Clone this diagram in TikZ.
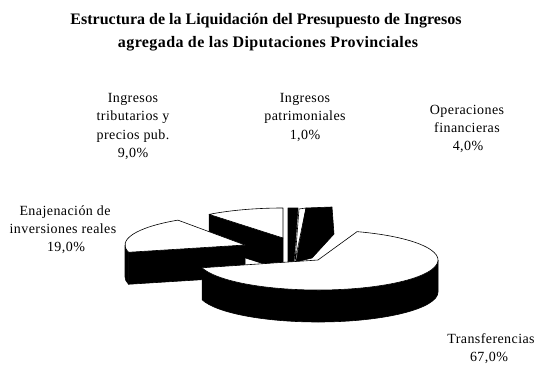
\documentclass[tikz,border=0pt]{standalone}
\usepackage{fontspec}
\setmainfont{Liberation Serif}
\usetikzlibrary{calc}
\begin{document}
\begin{tikzpicture}[x=1pt,y=1pt,
  topface/.style={fill=white,draw=black,line width=0.6pt,line join=round},
  sideface/.style={fill=black,draw=black,line width=0.6pt,line join=round},
  lbl/.style={font=\fontsize{14}{18}\selectfont\addfontfeature{LetterSpace=3},inner sep=0pt,anchor=base},
  ttl/.style={font=\fontsize{16}{22}\selectfont\bfseries,inner sep=0pt,anchor=base},
  ell/.style={x radius=120,y radius=30}]
\useasboundingbox (0,0) rectangle (538,370);
% title
\node[ttl] (t1) at (266,345.4) {Estructura de la Liquidación del Presupuesto de Ingresos};
\node[ttl,font=\fontsize{16}{22}\selectfont\bfseries\addfontfeature{LetterSpace=2.5}] (t2) at (268,322.4) {agregada de las Diputaciones Provinciales};
% apexes
\coordinate (A1) at (318,110);
\coordinate (A2) at (245,125);
\coordinate (A3) at (283,132);
% Ingresos tributarios (90..128)
\fill[sideface] (A3) -- ++(128:120 and 30) -- ++(0,-32) -- ($(A3)+(0,-32)$) -- cycle;
\draw[topface] (A3) -- ++(90:120 and 30) arc[start angle=90,end angle=128,ell] -- cycle;
% Ingresos patrimoniales
\fill[sideface] (288,162) -- (298,162) -- (294,108) -- (288,108) -- cycle;
% Operaciones financieras
\draw[topface] (299,161) -- (306,162) -- (295,109) -- cycle;
\fill[sideface] (306,162) -- (332,163) -- (334,136) -- (312,112) -- (296,108) -- cycle;
% Enajenacion (124..194)
\fill[sideface] (A2) ++(180:120 and 30) arc[start angle=180,end angle=194,ell] -- ++(0,-32) arc[start angle=194,end angle=180,ell] -- cycle;
\fill[sideface] (A2) -- ++(194:120 and 30) -- ++(0,-32) -- ($(A2)+(0,-32)$) -- cycle;
\draw[topface] (A2) -- ++(124:120 and 30) arc[start angle=124,end angle=194,ell] -- cycle;
% Transferencias (-165..71)
\fill[sideface] (A1) ++(-165:120 and 30) arc[start angle=-165,end angle=0,ell] -- ++(0,-32) arc[start angle=0,end angle=-165,ell] -- cycle;
\draw[topface] (A1) -- ++(71:120 and 30) arc[start angle=71,end angle=-165,ell] -- cycle;
% labels
\node[lbl] (l1a) at (133,267.5) {Ingresos};
\node[lbl] (l1b) at (133,249) {tributarios y};
\node[lbl] (l1c) at (133,230.5) {precios pub.};
\node[lbl] (l1d) at (133,212) {9,0\%};
\node[lbl] (l2a) at (305,267.5) {Ingresos};
\node[lbl] (l2b) at (305,249) {patrimoniales};
\node[lbl] (l2c) at (305,230.5) {1,0\%};
\node[lbl] (l3a) at (467,255.5) {Operaciones};
\node[lbl] (l3b) at (467,237.5) {financieras};
\node[lbl] (l3c) at (468,219.5) {4,0\%};
\node[lbl] (l4a) at (65,155) {Enajenación de};
\node[lbl] (l4b) at (63,137) {inversiones reales};
\node[lbl] (l4c) at (66,119) {19,0\%};
\node[lbl] (l5a) at (491,27) {Transferencias};
\node[lbl] (l5b) at (489,9) {67,0\%};
\end{tikzpicture}
\end{document}
